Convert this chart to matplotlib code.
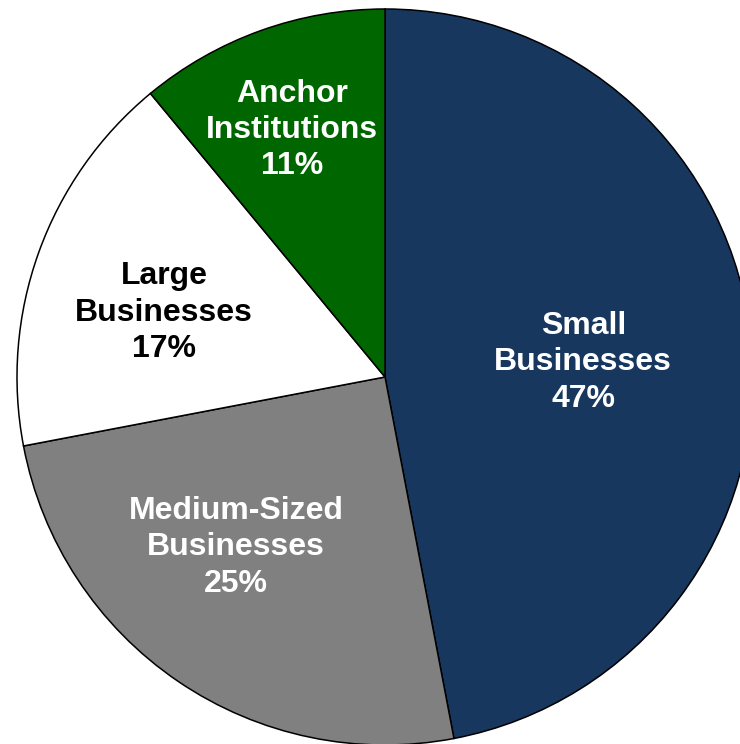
import numpy as np
import matplotlib.pyplot as plt

plt.rcParams['font.family'] = ['Liberation Sans', 'DejaVu Sans']

# share of businesses by category (clockwise from 12 o'clock)
categories = ["Small\nBusinesses", "Medium-Sized\nBusinesses", "Large\nBusinesses", "Anchor\nInstitutions"]
shares = [47, 25, 17, 11]
colors = ["#18375E", "#808080", "#FFFFFF", "#006600"]
text_colors = ["white", "white", "black", "white"]
# label placement: fraction of the radius and angular nudge (degrees) from the wedge middle
label_dist = [0.54, 0.615, 0.625, 0.717]
label_turn = [-1.1, -7.0, 3.6, 0.8]

fig = plt.figure(figsize=(7.40, 7.44), dpi=100)
ax = fig.add_axes([0, 0, 1, 1])

cx, cy, R = 385, 367, 368
wedges, _ = ax.pie(shares, colors=colors, startangle=90, counterclock=False,
                   center=(cx, cy), radius=R, frame=False,
                   wedgeprops=dict(edgecolor="black", linewidth=1.1))

for w, cat, val, tc, d, t in zip(wedges, categories, shares, text_colors, label_dist, label_turn):
    mid = np.deg2rad((w.theta1 + w.theta2) / 2 + t)
    x = cx + d * R * np.cos(mid)
    y = cy + d * R * np.sin(mid)
    ax.text(x, y, f"{cat}\n{val}%", ha="center", va="center", color=tc,
            fontsize=23, fontweight="bold", linespacing=1.28)

ax.set_xlim(0, 740)
ax.set_ylim(0, 744)
ax.set_aspect("equal")
ax.axis("off")

fig.savefig("out.png", dpi=100)
